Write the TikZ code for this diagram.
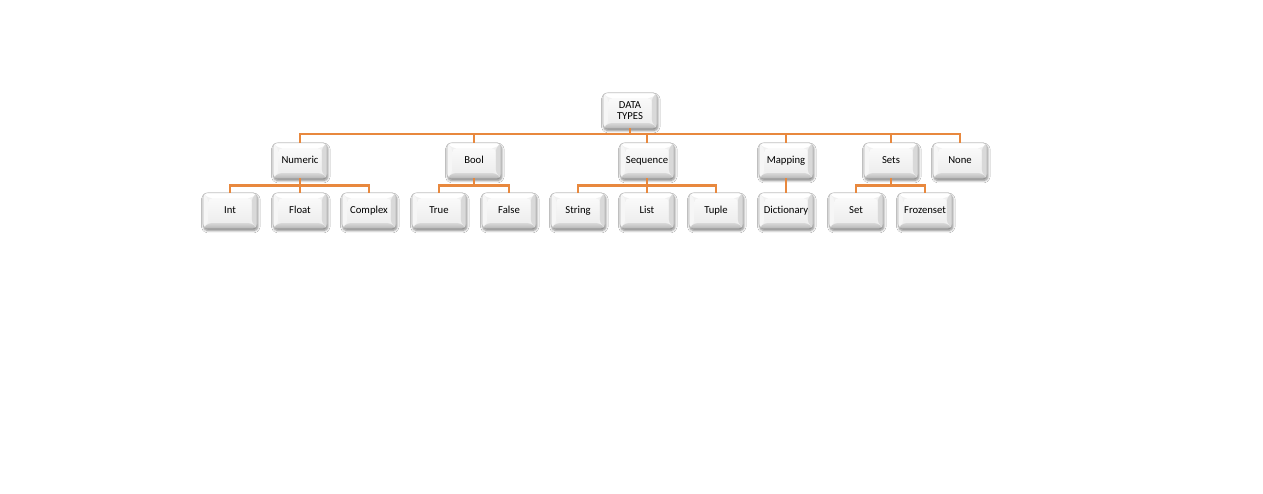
\documentclass[tikz,border=0pt]{standalone}
\usepackage{fontspec}
\newfontfamily\boxfont[Ligatures=NoCommon]{Carlito}
\usetikzlibrary{calc,shadows.blur}
\definecolor{linkorange}{RGB}{232,136,62}
\definecolor{boxedge}{RGB}{185,185,185}

\tikzset{
  tbox/.style={
    rectangle, rounded corners=3pt,
    minimum width=40.5pt, minimum height=26.5pt, inner sep=0pt,
    draw=boxedge, line width=0.4pt, fill=gray!12,
    font=\boxfont\fontsize{8}{8.8}\selectfont, align=center,
    blur shadow={shadow xshift=0.6pt, shadow yshift=-1.8pt,
                 shadow blur steps=6, shadow opacity=50},
    path picture={
      \def\bv{4pt}
      \coordinate (nw) at (path picture bounding box.north west);
      \coordinate (ne) at (path picture bounding box.north east);
      \coordinate (sw) at (path picture bounding box.south west);
      \coordinate (se) at (path picture bounding box.south east);
      % bevel faces
      \fill[white] (nw) -- (ne) -- ($(ne)+(-\bv,-\bv)$) -- ($(nw)+(\bv,-\bv)$) -- cycle;
      \fill[gray!7] (nw) -- (sw) -- ($(sw)+(\bv,\bv)$) -- ($(nw)+(\bv,-\bv)$) -- cycle;
      \fill[gray!30] (ne) -- (se) -- ($(se)+(-\bv,\bv)$) -- ($(ne)+(-\bv,-\bv)$) -- cycle;
      \shade[top color=gray!30, bottom color=gray!55]
        (sw) -- (se) -- ($(se)+(-\bv,\bv)$) -- ($(sw)+(\bv,\bv)$) -- cycle;
      % top face
      \shade[top color=gray!4, bottom color=gray!14]
        ($(sw)+(\bv,\bv)$) rectangle ($(ne)+(-\bv,-\bv)$);
    }
  },
  % single-line labels share one baseline
  lbox/.style={tbox, text height=5.8pt, text depth=1.7pt},
  link/.style={draw=linkorange, line width=2pt}
}

\begin{document}
\begin{tikzpicture}[x=0.75pt, y=-0.75pt]
  \useasboundingbox[fill=white] (0,0) rectangle (1263,493);

  % root
  \node[tbox] (root) at (630,110.5) {DATA\\[-1pt]TYPES};

  % first level
  \node[lbox] (numeric)  at (300,160.5) {Numeric};
  \node[lbox] (bool)     at (474,160.5) {Bool};
  \node[lbox] (sequence) at (647,160.5) {Sequence};
  \node[lbox] (mapping)  at (786,160.5) {Mapping};
  \node[lbox] (sets)     at (891,160.5) {Sets};
  \node[lbox] (none)     at (960,160.5) {None};

  % second level
  \node[lbox] (int)       at (230,210.5) {Int};
  \node[lbox] (float)     at (300,210.5) {Float};
  \node[lbox] (complex)   at (369,210.5) {Complex};
  \node[lbox] (true)      at (439,210.5) {True};
  \node[lbox] (false)     at (509,210.5) {False};
  \node[lbox] (string)    at (578,210.5) {String};
  \node[lbox] (list)      at (647,210.5) {List};
  \node[lbox] (tuple)     at (716,210.5) {Tuple};
  \node[lbox] (dict)      at (786,210.5) {Dictionary};
  \node[lbox] (set)       at (856,210.5) {Set};
  \node[lbox] (frozenset) at (925,210.5) {Frozenset};

  % bus heights
  \coordinate (busA) at (0,134);
  \coordinate (busB) at (0,185.5);

  % root to first level
  \foreach \c in {numeric,bool,sequence,mapping,sets,none}
    \draw[link] (root.south) -- (root.south |- busA) -| (\c.north);

  % first to second level
  \foreach \p/\c in {numeric/int,numeric/float,numeric/complex,
                     bool/true,bool/false,
                     sequence/string,sequence/list,sequence/tuple,
                     mapping/dict,
                     sets/set,sets/frozenset}
    \draw[link] (\p.south) -- (\p.south |- busB) -| (\c.north);
\end{tikzpicture}
\end{document}
